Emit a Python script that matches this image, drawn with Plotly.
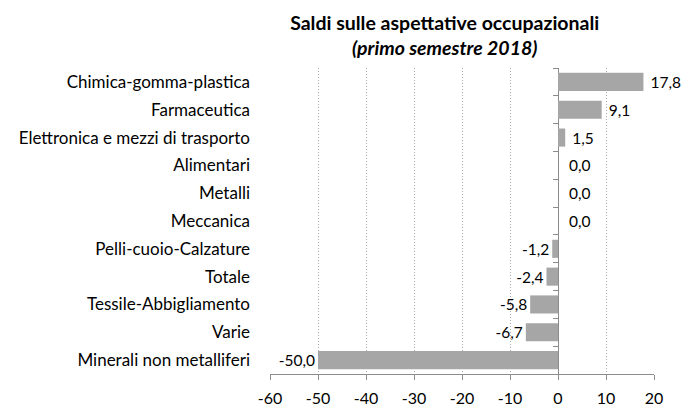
import plotly.graph_objects as go

categories = ["Chimica-gomma-plastica", "Farmaceutica", "Elettronica e mezzi di trasporto",
              "Alimentari", "Metalli", "Meccanica", "Pelli-cuoio-Calzature", "Totale",
              "Tessile-Abbigliamento", "Varie", "Minerali non metalliferi"]
values = [17.8, 9.1, 1.5, 0.0, 0.0, 0.0, -1.2, -2.4, -5.8, -6.7, -50.0]
x_ticks = [-60, -50, -40, -30, -20, -10, 0, 10, 20]

FONT = "Lato"


def label(v):
    s = f"{v:.1f}".replace(".", ",")
    if v > 0:
        return "\u00a0" + s
    if v == 0:
        return "\u00a0\u00a0" + s
    return s


fig = go.Figure()
fig.add_trace(go.Bar(
    y=categories, x=values, orientation="h",
    marker=dict(color="#A6A6A6", line=dict(width=0)),
    width=0.65,
    text=[label(v) for v in values],
    textposition="outside", cliponaxis=False,
    textfont=dict(family=FONT, size=15.5, color="#000000"),
    showlegend=False,
))
# invisible trace for the axis crossing at zero with category tick marks
fig.add_trace(go.Scatter(x=[None], y=[None], yaxis="y2", showlegend=False))

fig.update_layout(
    width=681, height=407,
    margin=dict(l=270, r=27, t=68, b=33, autoexpand=False),
    paper_bgcolor="white", plot_bgcolor="white",
    separators=",.",
    font=dict(family=FONT, size=16, color="#000000"),
    title=dict(
        text="<b>Saldi sulle aspettative occupazionali</b><br><b><i>(primo semestre 2018)</i></b>",
        x=0.653, xanchor="center", xref="container",
        y=0.926, yref="container", yanchor="top",
        font=dict(family=FONT, size=19.5, color="#000000"),
    ),
    bargap=0.35,
    xaxis=dict(
        range=[-60, 20], tickvals=x_ticks, ticktext=[str(t) for t in x_ticks],
        showgrid=True, gridcolor="#ABABAB", griddash="1px,2px", gridwidth=1,
        zeroline=True, zerolinecolor="#8C8C8C", zerolinewidth=1,
        showline=True, linecolor="#8C8C8C", linewidth=1,
        ticks="outside", ticklen=5, tickcolor="#8C8C8C",
        ticklabelstandoff=5,
        tickfont=dict(family=FONT, size=16),
    ),
    yaxis=dict(
        autorange="reversed", categoryorder="array", categoryarray=categories,
        showgrid=False, zeroline=False, showline=False, ticks="",
        ticklabelstandoff=19,
        tickfont=dict(family=FONT, size=17),
    ),
    yaxis2=dict(
        overlaying="y", anchor="free", position=0.75, side="left",
        range=[10.5, -0.5], tickvals=[i - 0.5 for i in range(12)],
        showticklabels=False, ticks="outside", ticklen=5, tickcolor="#8C8C8C",
        showline=False, showgrid=False, zeroline=False,
    ),
)

fig.write_html("out.html", config={"displayModeBar": False},
               post_script="document.body.style.margin='0px';")
